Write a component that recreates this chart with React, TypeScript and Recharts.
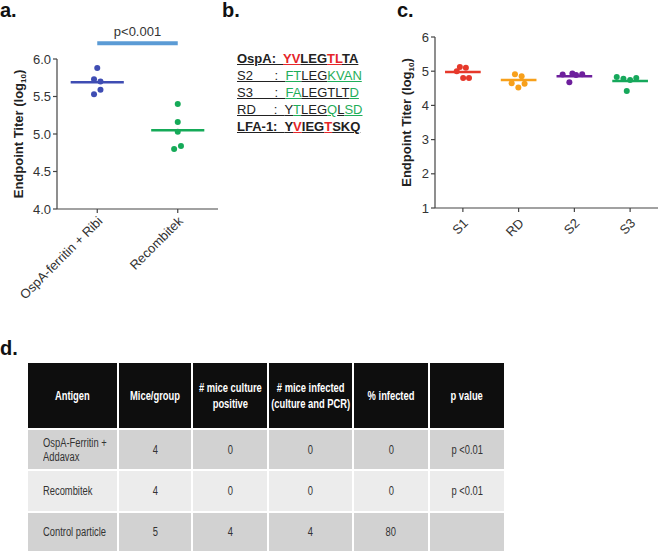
import { ScatterChart, Scatter, XAxis, YAxis, ReferenceLine, Label } from 'recharts';

// panel a
const groupsA = ['OspA-ferritin + Ribi', 'Recombitek'];
const ferritinTiters = [5.88, 5.73, 5.7, 5.59, 5.53];
const ferritinJitter = [0, -0.04, 0.04, 0.04, -0.04];
const recombitekTiters = [5.4, 5.16, 5.03, 4.84, 4.8];
const recombitekJitter = [0, 0, 0, 0.04, -0.045];
const meansA = [5.69, 5.05];
const colorsA = ['#3f4db3', '#15aa58'];
const pValueA = 'p<0.001';
const ticksA = [4, 4.5, 5, 5.5, 6];

// panel c
const groupsC = ['S1', 'RD', 'S2', 'S3'];
const s1Titers = [5.12, 5.1, 5.0, 4.8, 4.8];
const s1Jitter = [-0.054, 0.054, -0.11, 0.005, 0.11];
const rdTiters = [4.91, 4.85, 4.65, 4.63, 4.52];
const rdJitter = [-0.066, 0.054, -0.125, 0.107, -0.005];
const s2Titers = [4.9, 4.93, 4.89, 4.91, 4.68];
const s2Jitter = [-0.21, -0.036, 0.03, 0.14, -0.09];
const s3Titers = [4.83, 4.78, 4.74, 4.8, 4.42];
const s3Jitter = [-0.24, -0.12, 0, 0.11, -0.06];
const meansC = [4.98, 4.74, 4.85, 4.71];
const colorsC = ['#e6382a', '#f7a01b', '#6d1f9c', '#16a85b'];
const ticksC = [1, 2, 3, 4, 5, 6];

// panel b: [text, colour] pieces per line
const RED = '#e5262a';
const GRN = '#1fae5a';
const BLK = '#222';
const seqLines: { bold: boolean; parts: [string, string][] }[] = [
  { bold: true, parts: [['OspA:  ', BLK], ['YV', RED], ['LEG', BLK], ['TL', RED], ['TA', BLK]] },
  { bold: false, parts: [['S2      :  ', BLK], ['FT', GRN], ['LEG', BLK], ['KVAN', GRN]] },
  { bold: false, parts: [['S3      :  ', BLK], ['FA', GRN], ['LEGTLT', BLK], ['D', GRN]] },
  { bold: false, parts: [['RD     :  ', BLK], ['Y', BLK], ['T', GRN], ['LEG', BLK], ['Q', GRN], ['L', BLK], ['SD', GRN]] },
  { bold: true, parts: [['LFA-1:  ', BLK], ['Y', BLK], ['V', RED], ['IEG', BLK], ['T', RED], ['SKQ', BLK]] },
];

// panel d
const tableHeader = ['Antigen', 'Mice/group', '# mice culture\npositive', '# mice infected\n(culture and PCR)', '% infected', 'p value'];
const tableRows = [
  ['OspA-Ferritin +\nAddavax', '4', '0', '0', '0', 'p <0.01'],
  ['Recombitek', '4', '0', '0', '0', 'p <0.01'],
  ['Control particle', '5', '4', '4', '80', ''],
];

const FONT = '"Liberation Sans", Arial, sans-serif';

const toPoints = (pos: number, titers: number[], jitter: number[]) =>
  titers.map((y, i) => ({ x: pos + jitter[i], y }));

const dot = (color: string) => (props: any) => (
  <circle cx={props.cx} cy={props.cy} r={3} fill={color} />
);

const angledTick = (names: string[], shift: number) => (props: any) => {
  const { x, y, payload } = props;
  return (
    <g transform={`translate(${x + 6},${y + 5 + shift}) rotate(-45)`}>
      <text x={0} y={0} textAnchor="end" fontSize={13} fill="#333" fontFamily={FONT}>
        {names[payload.value - 1]}
      </text>
    </g>
  );
};

const axisTitle = (props: any) => {
  const vb = props.viewBox;
  const cx = vb.x + 6;
  const cy = vb.y + vb.height / 2;
  return (
    <text
      x={cx}
      y={cy}
      transform={`rotate(-90, ${cx}, ${cy})`}
      textAnchor="middle"
      fontSize={13}
      fontWeight="bold"
      fill="#222"
      fontFamily={FONT}
    >
      Endpoint Titer (log<tspan dy={3} fontSize={8}>10</tspan>
      <tspan dy={-3}>)</tspan>
    </text>
  );
};

const axisStyle = { stroke: '#444', strokeWidth: 1.2 };

function PanelA() {
  const series = [
    toPoints(1, ferritinTiters, ferritinJitter),
    toPoints(2, recombitekTiters, recombitekJitter),
  ];
  return (
    <ScatterChart width={230} height={300} margin={{ top: 59, right: 12, bottom: 0, left: 17 }}>
      <XAxis
        type="number"
        dataKey="x"
        domain={[0.5, 2.5]}
        ticks={[1, 2]}
        height={91}
        tickSize={4}
        axisLine={axisStyle}
        tickLine={axisStyle}
        tick={angledTick(groupsA, 2)}
      />
      <YAxis
        type="number"
        dataKey="y"
        domain={[4, 6]}
        ticks={ticksA}
        width={40}
        tickSize={4}
        axisLine={axisStyle}
        tickLine={axisStyle}
        tickFormatter={(v: number) => v.toFixed(1)}
        tick={{ fontSize: 13, fill: '#333', fontFamily: FONT }}
      >
        <Label content={axisTitle} />
      </YAxis>
      {series.map((d, i) => (
        <Scatter key={i} data={d} shape={dot(colorsA[i])} isAnimationActive={false} />
      ))}
      {meansA.map((m, i) => (
        <ReferenceLine
          key={'m' + i}
          segment={[{ x: i + 1 - 0.33, y: m }, { x: i + 1 + 0.33, y: m }]}
          stroke={colorsA[i]}
          strokeWidth={2.5}
        />
      ))}
      <ReferenceLine
        segment={[{ x: 1, y: 6.21 }, { x: 2, y: 6.21 }]}
        stroke="#5b9bd5"
        strokeWidth={4}
        ifOverflow="visible"
        label={{ value: pValueA, position: 'top', fontSize: 13, fill: '#333', offset: 7, fontFamily: FONT }}
      />
    </ScatterChart>
  );
}

function PanelC() {
  const series = [
    toPoints(1, s1Titers, s1Jitter),
    toPoints(2, rdTiters, rdJitter),
    toPoints(3, s2Titers, s2Jitter),
    toPoints(4, s3Titers, s3Jitter),
  ];
  return (
    <ScatterChart width={269} height={300} margin={{ top: 37, right: 1, bottom: 0, left: 15 }}>
      <XAxis
        type="number"
        dataKey="x"
        domain={[0.5, 4.5]}
        ticks={[1, 2, 3, 4]}
        height={92}
        tickSize={4}
        axisLine={axisStyle}
        tickLine={axisStyle}
        tick={angledTick(groupsC, 5)}
      />
      <YAxis
        type="number"
        dataKey="y"
        domain={[1, 6]}
        ticks={ticksC}
        width={30}
        tickSize={4}
        axisLine={axisStyle}
        tickLine={axisStyle}
        tick={{ fontSize: 13, fill: '#333', fontFamily: FONT }}
      >
        <Label content={axisTitle} />
      </YAxis>
      {series.map((d, i) => (
        <Scatter key={i} data={d} shape={dot(colorsC[i])} isAnimationActive={false} />
      ))}
      {meansC.map((m, i) => (
        <ReferenceLine
          key={'m' + i}
          segment={[{ x: i + 1 - 0.32, y: m }, { x: i + 1 + 0.32, y: m }]}
          stroke={colorsC[i]}
          strokeWidth={2.5}
        />
      ))}
    </ScatterChart>
  );
}

const panelLabel = (text: string, left: number, top: number) => (
  <div style={{ position: 'absolute', left, top, fontSize: 20, fontWeight: 'bold', fontFamily: FONT, lineHeight: '20px', color: '#111' }}>
    {text}
  </div>
);

function PanelB() {
  return (
    <div style={{ position: 'absolute', left: 237, top: 50, fontFamily: FONT, fontSize: 13, lineHeight: '17px' }}>
      {seqLines.map((line, i) => (
        <div key={i} style={{ whiteSpace: 'pre', fontWeight: line.bold ? 'bold' : 'normal' }}>
          {line.parts.map(([t, c], j) => (
            <span key={j} style={{ color: c, textDecoration: 'underline', textDecorationColor: c }}>
              {t}
            </span>
          ))}
        </div>
      ))}
    </div>
  );
}

const colWidths = [91, 74, 76, 85, 76, 76];
const rowBgs = ['#d2d2d2', '#ececec', '#d2d2d2'];
const rowHeights = [41, 42, 40];

// the original table is set in a condensed face; squeeze Liberation Sans horizontally
const Squeezed = ({ text, left }: { text: string; left: boolean }) => (
  <div style={{ display: 'flex', justifyContent: left ? 'flex-start' : 'center', overflow: 'visible' }}>
    <span
      style={{
        flex: 'none',
        whiteSpace: 'pre',
        textAlign: left ? 'left' : 'center',
        transform: 'scaleX(0.78)',
        transformOrigin: left ? 'left center' : 'center center',
      }}
    >
      {text}
    </span>
  </div>
);

function PanelD() {
  const cell = { border: '2px solid #fff', padding: 0 };
  return (
    <table
      style={{
        position: 'absolute',
        left: 26,
        top: 361,
        borderCollapse: 'collapse',
        tableLayout: 'fixed',
        width: 480,
        fontFamily: FONT,
        fontSize: 12,
      }}
    >
      <colgroup>
        {colWidths.map((w, i) => (
          <col key={i} style={{ width: w }} />
        ))}
      </colgroup>
      <tbody>
        <tr style={{ height: 67 }}>
          {tableHeader.map((h, i) => (
            <td key={i} style={{ ...cell, background: '#0e0e0e', color: '#fff', fontWeight: 'bold', lineHeight: '16px' }}>
              <Squeezed text={h} left={false} />
            </td>
          ))}
        </tr>
        {tableRows.map((r, ri) => (
          <tr key={ri} style={{ height: rowHeights[ri], background: rowBgs[ri] }}>
            {r.map((v, ci) => (
              <td key={ci} style={{ ...cell, color: '#333', paddingLeft: ci === 0 ? 15 : 0, lineHeight: '14px' }}>
                <Squeezed text={v} left={ci === 0} />
              </td>
            ))}
          </tr>
        ))}
      </tbody>
    </table>
  );
}

export default function App() {
  return (
    <div style={{ position: 'absolute', left: 0, top: 0, width: 659, height: 553, background: '#fff', overflow: 'hidden' }}>
      {panelLabel('a.', 0, 0)}
      {panelLabel('b.', 222, 0)}
      {panelLabel('c.', 397, 0)}
      {panelLabel('d.', 0, 338)}
      <div style={{ position: 'absolute', left: 0, top: 0 }}>
        <PanelA />
      </div>
      <PanelB />
      <div style={{ position: 'absolute', left: 390, top: 0 }}>
        <PanelC />
      </div>
      <PanelD />
    </div>
  );
}
